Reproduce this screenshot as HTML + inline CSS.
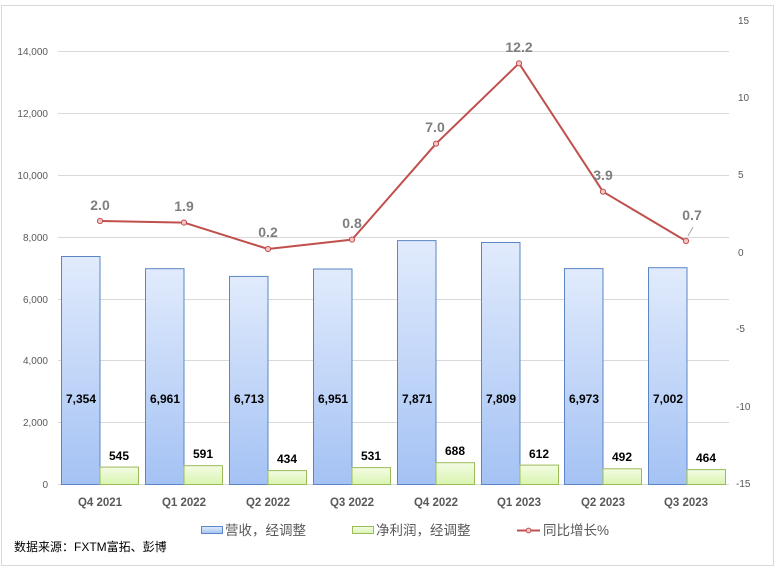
<!DOCTYPE html>
<html><head><meta charset="utf-8">
<style>
html,body{margin:0;padding:0;background:#fff;}
svg{display:block;}
text{font-family:"Liberation Sans","Noto Sans CJK SC",sans-serif;}
</style></head>
<body>
<svg width="779" height="574" viewBox="0 0 779 574" xmlns="http://www.w3.org/2000/svg">
<defs>
<linearGradient id="gb" x1="0" y1="0" x2="0" y2="1">
<stop offset="0" stop-color="#e1ebfc"/><stop offset="1" stop-color="#a4c2f4"/>
</linearGradient>
<linearGradient id="gg" x1="0" y1="0" x2="0" y2="1">
<stop offset="0" stop-color="#f4fce4"/><stop offset="1" stop-color="#d9f4b0"/>
</linearGradient>
</defs>
<rect x="1.5" y="5.5" width="772" height="560" fill="#fff" stroke="#d9d9d9" stroke-width="1"/>
<!-- gridlines -->
<g stroke="#d9d9d9" stroke-width="1">
<line x1="58" y1="51.5" x2="729" y2="51.5"/>
<line x1="58" y1="113.5" x2="729" y2="113.5"/>
<line x1="58" y1="175.5" x2="729" y2="175.5"/>
<line x1="58" y1="237.5" x2="729" y2="237.5"/>
<line x1="58" y1="299.5" x2="729" y2="299.5"/>
<line x1="58" y1="360.5" x2="729" y2="360.5"/>
<line x1="58" y1="422.5" x2="729" y2="422.5"/>
<line x1="58" y1="484.5" x2="729" y2="484.5"/>
</g>
<!-- left axis labels -->
<g font-size="10" fill="#595959" text-anchor="end">
<text x="48" y="55">14,000</text>
<text x="48" y="117">12,000</text>
<text x="48" y="179">10,000</text>
<text x="48" y="241">8,000</text>
<text x="48" y="303">6,000</text>
<text x="48" y="364">4,000</text>
<text x="48" y="426">2,000</text>
<text x="48" y="488">0</text>
</g>
<!-- right axis labels -->
<g font-size="10" fill="#595959">
<text x="738" y="24">15</text>
<text x="738" y="101">10</text>
<text x="738" y="178">5</text>
<text x="738" y="256">0</text>
<text x="736" y="332">-5</text>
<text x="736" y="410">-10</text>
<text x="736" y="487">-15</text>
</g>
<!-- blue bars -->
<g fill="url(#gb)" stroke="#5a86c5" stroke-width="1">
<rect x="61.5" y="256.5" width="38.5" height="228"/>
<rect x="145.5" y="268.7" width="38.5" height="215.8"/>
<rect x="229.5" y="276.4" width="38.5" height="208.1"/>
<rect x="313.5" y="269" width="38.5" height="215.5"/>
<rect x="397.5" y="240.6" width="38.5" height="243.9"/>
<rect x="481.5" y="242.5" width="38.5" height="242"/>
<rect x="564.5" y="268.6" width="38.5" height="215.9"/>
<rect x="648.5" y="267.7" width="38.5" height="216.8"/>
</g>
<!-- green bars -->
<g fill="url(#gg)" stroke="#9bbb59" stroke-width="1">
<rect x="100" y="467.1" width="38.5" height="17.4"/>
<rect x="184" y="465.7" width="38.5" height="18.8"/>
<rect x="268" y="470.6" width="38.5" height="13.9"/>
<rect x="352" y="467.6" width="38.5" height="16.9"/>
<rect x="436" y="462.7" width="38.5" height="21.8"/>
<rect x="520" y="465.1" width="38.5" height="19.4"/>
<rect x="603" y="468.8" width="38.5" height="15.7"/>
<rect x="687" y="469.6" width="38.5" height="14.9"/>
</g>
<!-- blue labels -->
<g font-size="12" font-weight="bold" fill="#000" text-anchor="middle">
<text x="81" y="403">7,354</text>
<text x="165" y="403">6,961</text>
<text x="249" y="403">6,713</text>
<text x="333" y="403">6,951</text>
<text x="417" y="403">7,871</text>
<text x="501" y="403">7,809</text>
<text x="584" y="403">6,973</text>
<text x="668" y="403">7,002</text>
</g>
<!-- green labels -->
<g font-size="12" font-weight="bold" fill="#000" text-anchor="middle">
<text x="119" y="460">545</text>
<text x="203" y="458">591</text>
<text x="287" y="463">434</text>
<text x="371" y="460">531</text>
<text x="455" y="455">688</text>
<text x="539" y="458">612</text>
<text x="622" y="461">492</text>
<text x="706" y="462">464</text>
</g>
<!-- line -->
<polyline fill="none" stroke="#c0504d" stroke-width="2" stroke-linejoin="round"
points="100,221 184,222.6 268,249 352,239.6 436,143.7 519,63.3 603,191.7 686,241"/>
<g fill="#f4c7c6" stroke="#c0504d" stroke-width="1">
<circle cx="100" cy="221" r="2.6"/>
<circle cx="184" cy="222.6" r="2.6"/>
<circle cx="268" cy="249" r="2.6"/>
<circle cx="352" cy="239.6" r="2.6"/>
<circle cx="436" cy="143.7" r="2.6"/>
<circle cx="519" cy="63.3" r="2.6"/>
<circle cx="603" cy="191.7" r="2.6"/>
<circle cx="686" cy="241" r="2.6"/>
</g>
<line x1="688" y1="236" x2="693" y2="227" stroke="#a6a6a6" stroke-width="1"/>
<!-- line labels -->
<g font-size="14" font-weight="bold" fill="#7f7f7f" text-anchor="middle">
<text x="100" y="210">2.0</text>
<text x="184" y="211">1.9</text>
<text x="268" y="237">0.2</text>
<text x="352" y="228">0.8</text>
<text x="435" y="132">7.0</text>
<text x="519" y="52">12.2</text>
<text x="603" y="180">3.9</text>
<text x="692" y="220">0.7</text>
</g>
<!-- x labels -->
<g font-size="11.5" font-weight="bold" fill="#595959" text-anchor="middle">
<text x="100" y="506">Q4 2021</text>
<text x="184" y="506">Q1 2022</text>
<text x="268" y="506">Q2 2022</text>
<text x="352" y="506">Q3 2022</text>
<text x="436" y="506">Q4 2022</text>
<text x="519" y="506">Q1 2023</text>
<text x="603" y="506">Q2 2023</text>
<text x="686" y="506">Q3 2023</text>
</g>
<!-- legend -->
<rect x="201.5" y="526.5" width="21" height="7" fill="url(#gb)" stroke="#5a86c5" stroke-width="1"/>
<text x="225" y="535" font-size="13.5" fill="#595959">营收，经调整</text>
<rect x="352.5" y="526.5" width="21" height="7" fill="url(#gg)" stroke="#9bbb59" stroke-width="1"/>
<text x="376" y="535" font-size="13.5" fill="#595959">净利润，经调整</text>
<line x1="517" y1="530.5" x2="540" y2="530.5" stroke="#c0504d" stroke-width="2"/>
<circle cx="528.5" cy="530.5" r="2.4" fill="#f4c7c6" stroke="#c0504d" stroke-width="1"/>
<text x="543" y="535" font-size="13.5" fill="#595959">同比增长%</text>
<!-- source -->
<text x="14" y="551" font-size="12" fill="#000">数据来源：FXTM富拓、彭博</text>
</svg>
</body></html>
